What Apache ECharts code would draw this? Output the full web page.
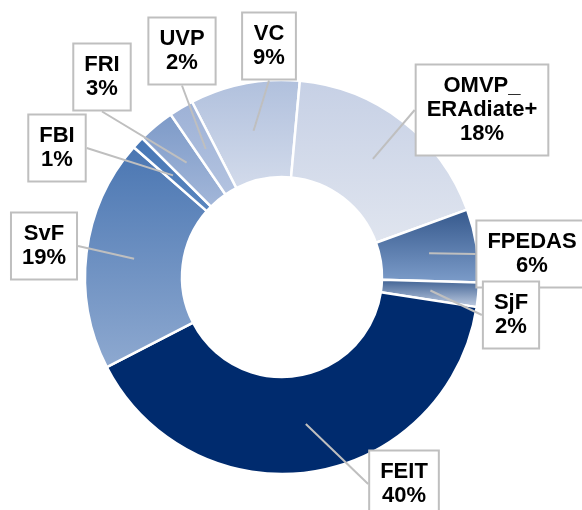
<!DOCTYPE html>
<html>
<head>
<meta charset="utf-8">
<script src="https://cdn.jsdelivr.net/npm/echarts@6/dist/echarts.min.js"></script>
<style>html,body{margin:0;padding:0;background:#fff}#c{width:582px;height:510px}</style>
</head>
<body>
<div id="c"></div>
<script>
// Data (clockwise from top)
const categories = ['VC', 'OMVP_ERAdiate+', 'FPEDAS', 'SjF', 'FEIT', 'SvF', 'FBI', 'FRI', 'UVP'];
const labelTexts = ['VC', 'OMVP_\nERAdiate+', 'FPEDAS', 'SjF', 'FEIT', 'SvF', 'FBI', 'FRI', 'UVP'];
const shares = [9, 18, 6, 2, 40, 19, 1, 3, 2];

// Styling (kept apart from data)
const gradients = [
  ['#b0c0dd', '#d3dbeb'],
  ['#c6d0e5', '#e0e5ef'],
  ['#34578b', '#7d9dca'],
  ['#3a5d90', '#c6d2e6'],
  ['#002b6e', '#002b6e'],
  ['#4a76b2', '#8ea9d0'],
  ['#4676b5', '#5a86bf'],
  ['#7d9ac8', '#a3b7d9'],
  ['#9db1d6', '#b3c3e0']
];
const labelPos = [
  [269, 46], [482, 110], [532, 254], [511, 315], [404, 484],
  [44, 246], [57, 148], [102, 77], [182, 51]
];

const CENTER = [282, 277];
const START = 117.2;

const chart = echarts.init(document.getElementById('c'), null, {renderer: 'canvas'});
chart.setOption({
  animation: false,
  series: [{
    type: 'pie',
    z: 2,
    center: CENTER,
    radius: [100, 197],
    startAngle: START,
    clockwise: true,
    silent: true,
    itemStyle: {borderColor: '#ffffff', borderWidth: 2.5},
    label: {show: false},
    labelLine: {show: false},
    data: shares.map((v, i) => ({
      name: categories[i],
      value: v,
      itemStyle: {
        color: new echarts.graphic.LinearGradient(0, 0, 0, 1, [
          {offset: 0, color: gradients[i][0]},
          {offset: 1, color: gradients[i][1]}
        ])
      }
    }))
  }, {
    // transparent ring carrying the callout labels (anchors at mid-ring)
    type: 'pie',
    z: 10,
    center: CENTER,
    radius: [100, 149],
    startAngle: START,
    clockwise: true,
    silent: true,
    avoidLabelOverlap: false,
    itemStyle: {color: 'rgba(0,0,0,0)', borderWidth: 0},
    label: {
      show: true,
      position: 'outside',
      formatter: p => labelTexts[p.dataIndex] + '\n' + p.value + '%',
      fontFamily: 'Liberation Sans, Arial, sans-serif',
      fontWeight: 'bold',
      fontSize: 22,
      lineHeight: 24,
      color: '#000',
      align: 'center',
      backgroundColor: '#ffffff',
      borderColor: '#bfbfbf',
      borderWidth: 2,
      padding: [9, 10, 8, 10]
    },
    labelLine: {
      show: true,
      length: 0,
      length2: 0,
      lineStyle: {color: '#bfbfbf', width: 2}
    },
    labelLayout: function (params) {
      const p = labelPos[params.dataIndex];
      return {x: p[0], y: p[1], align: 'center', verticalAlign: 'middle'};
    },
    emphasis: {disabled: true},
    data: shares.map((v, i) => ({name: categories[i], value: v}))
  }]
});
</script>
</body>
</html>
